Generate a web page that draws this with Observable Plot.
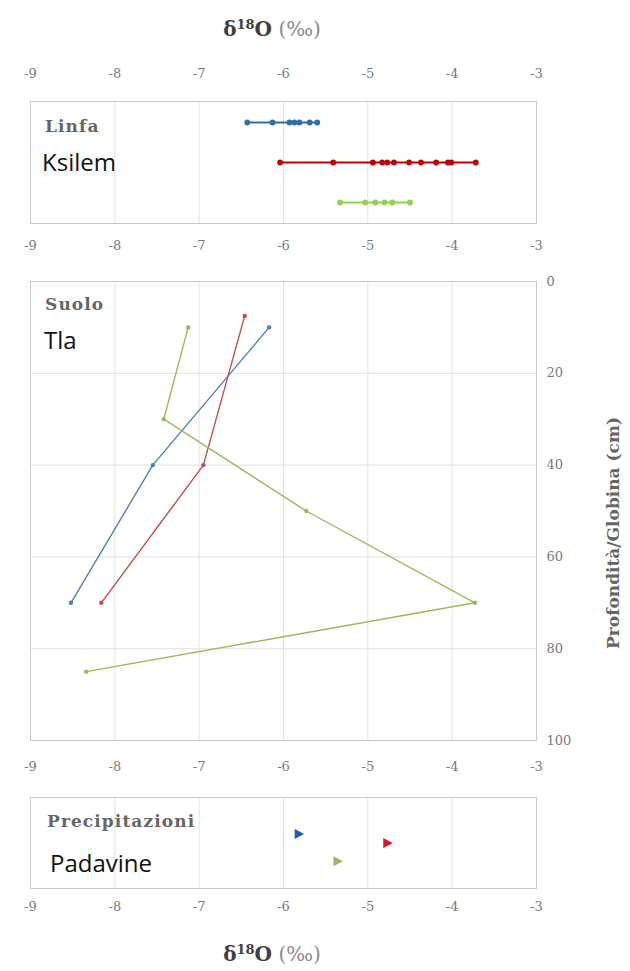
<!DOCTYPE html>
<html>
<head>
<meta charset="utf-8">
<script src="https://cdn.jsdelivr.net/npm/d3@7"></script>
<script src="https://cdn.jsdelivr.net/npm/@observablehq/plot@0.6"></script>
<style>
  body { margin: 0; background: #fff; }
  #wrap { position: relative; width: 630px; height: 971px; background: #fff; overflow: hidden; }
  .panel { position: absolute; left: 0; }
  .lbl { position: absolute; white-space: nowrap; }
  .bold { font-family: "DejaVu Serif", serif; font-weight: bold; color: #666; font-size: 17px; line-height: 22px; letter-spacing: 1.1px; }
  .sans { font-family: "Open Sans", sans-serif; color: #111; font-size: 24px; line-height: 28px; }
  .title { position: absolute; left: 0; width: 544px; text-align: center; font-family: "DejaVu Serif", serif; font-size: 20px; line-height: 24px; color: #404040; }
  .title b { font-weight: bold; }
  .title sup { font-size: 13px; vertical-align: 7px; line-height: 0; font-weight: bold; }
  .title span { color: #8a8a8a; font-weight: normal; }
</style>
</head>
<body>
<div id="wrap"></div>
<script>
// ---- data ----
const seriesNames = ["Serie A", "Serie B", "Serie C"];
const xTicks = [-9, -8, -7, -6, -5, -4, -3];
const gridX = [-8, -7, -6, -5, -4];
const depthTicks = [0, 20, 40, 60, 80, 100];
const depthGrid = [20, 40, 60, 80];

// Linfa / Ksilem (xylem sap) δ18O values
const linfaA = [-6.43, -6.13, -5.93, -5.87, -5.81, -5.69, -5.60];
const linfaB = [-6.04, -5.41, -4.94, -4.83, -4.77, -4.69, -4.51, -4.37, -4.19, -4.05, -4.01, -3.72];
const linfaC = [-5.33, -5.03, -4.91, -4.80, -4.71, -4.50];

// Suolo / Tla (soil) δ18O values vs depth (cm)
const suoloDepthA = [10, 40, 70];
const suoloA = [-6.17, -7.55, -8.52];
const suoloDepthB = [7.5, 40, 70];
const suoloB = [-6.46, -6.95, -8.16];
const suoloDepthC = [10, 30, 50, 70, 85];
const suoloC = [-7.13, -7.42, -5.73, -3.73, -8.34];

// Precipitazioni / Padavine δ18O values and row offsets
const precipX = [-5.82, -4.77, -5.36];
const precipRow = [0.6, 0.5, 0.3];

// ---- colours ----
const colTop = ["#2e6fae", "#c00000", "#92d050"];
const colMid = ["#4f81bd", "#c0504d", "#9bbb59"];
const colBot = ["#1f5fa6", "#e0102b", "#9bbb59"];

// ---- build tables ----
const linfaRows = [linfaA, linfaB, linfaC].flatMap((arr, i) => arr.map(x => ({series: seriesNames[i], x})));
const suoloRows = [[suoloA, suoloDepthA], [suoloB, suoloDepthB], [suoloC, suoloDepthC]]
  .flatMap(([xs, ds], i) => xs.map((x, j) => ({series: seriesNames[i], x, depth: ds[j]})));
const precipRows = precipX.map((x, i) => ({series: seriesNames[i], x, row: precipRow[i]}));

const fmt = d => String(d);
const style = {fontFamily: "'DejaVu Serif', serif", fontSize: "13px", color: "#7a7a7a", background: "transparent", overflow: "visible"};
const W = 630, ML = 30, MR = 94;
const gridStroke = "#e2e2e2", frameStroke = "#c8c8c8";

const triRight = {
  draw(ctx, size) {
    const r = Math.sqrt(size / Math.PI);
    ctx.moveTo(-r * 0.8, -r);
    ctx.lineTo(r * 1.1, 0);
    ctx.lineTo(-r * 0.8, r);
    ctx.closePath();
  }
};

// Top panel
const topPlot = Plot.plot({
  width: W, height: 208, marginTop: 51, marginBottom: 35, marginLeft: ML, marginRight: MR,
  style,
  x: {domain: [-9, -3]},
  y: {type: "point", domain: seriesNames, padding: 0.5, axis: null},
  color: {domain: seriesNames, range: colTop},
  marks: [
    Plot.ruleX(gridX, {stroke: gridStroke}),
    Plot.frame({stroke: frameStroke}),
    Plot.axisX(xTicks, {anchor: "top", tickSize: 0, tickPadding: 24, tickFormat: fmt, label: null}),
    Plot.axisX(xTicks, {anchor: "bottom", tickSize: 0, tickPadding: 17, tickFormat: fmt, label: null}),
    Plot.line(linfaRows, {x: "x", y: "series", z: "series", stroke: "series", strokeWidth: 2}),
    Plot.dot(linfaRows, {x: "x", y: "series", fill: "series", r: 2.9})
  ]
});
topPlot.classList.add("panel"); topPlot.style.top = "50px";

// Middle panel
const midPlot = Plot.plot({
  width: W, height: 517, marginTop: 23, marginBottom: 35, marginLeft: ML, marginRight: MR,
  style,
  x: {domain: [-9, -3]},
  y: {domain: [0, 100], reverse: true},
  color: {domain: seriesNames, range: colMid},
  marks: [
    Plot.ruleX(gridX, {stroke: gridStroke}),
    Plot.ruleY(depthGrid, {stroke: gridStroke}),
    Plot.frame({stroke: frameStroke}),
    Plot.axisX(xTicks, {anchor: "bottom", tickSize: 0, tickPadding: 21, tickFormat: fmt, label: null}),
    Plot.axisY(depthTicks, {anchor: "right", tickSize: 0, tickPadding: 10, tickFormat: fmt, label: null}),
    Plot.line(suoloRows, {x: "x", y: "depth", z: "series", stroke: "series", strokeWidth: 1.4}),
    Plot.dot(suoloRows, {x: "x", y: "depth", fill: "series", r: 2.2}),
    Plot.text(["Profondità/Globina (cm)"], {frameAnchor: "right", textAnchor: "middle", dx: 77, dy: 22, rotate: -90, fontWeight: "bold", fontSize: 17, fill: "#666", fontFamily: "'DejaVu Serif', serif"})
  ]
});
midPlot.classList.add("panel"); midPlot.style.top = "258px";

// Bottom panel
const botPlot = Plot.plot({
  width: W, height: 153, marginTop: 22, marginBottom: 40, marginLeft: ML, marginRight: MR,
  style,
  x: {domain: [-9, -3]},
  y: {domain: [0, 1], axis: null},
  color: {domain: seriesNames, range: colBot},
  marks: [
    Plot.ruleX(gridX, {stroke: gridStroke}),
    Plot.frame({stroke: frameStroke}),
    Plot.axisX(xTicks, {anchor: "bottom", tickSize: 0, tickPadding: 13, tickFormat: fmt, label: null}),
    Plot.dot(precipRows, {x: "x", y: "row", fill: "series", symbol: triRight, r: 5, stroke: null})
  ]
});
botPlot.classList.add("panel"); botPlot.style.top = "775px";

const wrap = document.getElementById("wrap");
wrap.append(topPlot, midPlot, botPlot);

function addLabel(text, cls, left, topPx) {
  const d = document.createElement("div");
  d.className = "lbl " + cls;
  d.textContent = text;
  d.style.left = left + "px";
  d.style.top = topPx + "px";
  wrap.append(d);
}
addLabel("Linfa", "bold", 45, 115);
addLabel("Ksilem", "sans", 42, 148);
addLabel("Suolo", "bold", 45, 293);
addLabel("Tla", "sans", 44, 326);
addLabel("Precipitazioni", "bold", 47, 810);
addLabel("Padavine", "sans", 50, 849);

function addTitle(topPx) {
  const d = document.createElement("div");
  d.className = "title";
  d.innerHTML = "<b>δ<sup>18</sup>O</b> <span>(‰)</span>";
  d.style.top = topPx + "px";
  wrap.append(d);
}
addTitle(17);
addTitle(942);
</script>
</body>
</html>
